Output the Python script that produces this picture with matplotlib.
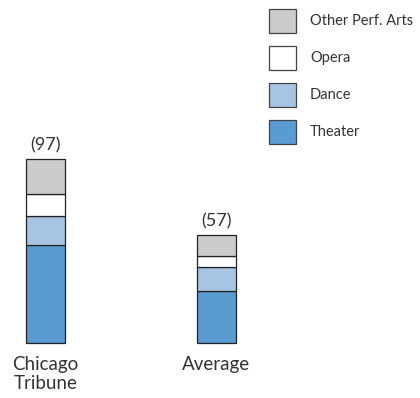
import matplotlib
import matplotlib.pyplot as plt
from matplotlib.patches import Rectangle

plt.rcParams['font.family'] = ['Lato', 'DejaVu Sans']

categories = ['Chicago\nTribune', 'Average']
totals = [97, 57]
series = ['Theater', 'Dance', 'Opera', 'Other Perf. Arts']
theater = [51.5, 27.5]
dance = [15.5, 12.5]
opera = [11.5, 6]
other = [18.5, 11]
colors = ['#5a9bd2', '#a8c4e3', '#ffffff', '#cbcbcb']

fig = plt.figure(figsize=(4.2, 3.98), dpi=100)
ax = fig.add_axes([0, 0, 1, 1])

x = range(len(categories))
bottom = [0, 0]
for vals, col in zip([theater, dance, opera, other], colors):
    ax.bar(x, vals, 0.228, bottom=bottom, color=col, edgecolor='#222222', linewidth=0.9)
    bottom = [b + v for b, v in zip(bottom, vals)]

for i, t in enumerate(totals):
    ax.annotate('(%d)' % t, (i, t), xytext=(0, 4), textcoords='offset points',
                ha='center', va='bottom', fontsize=13, color='#333333')
    ax.text(i, -6.5, categories[i], ha='center', va='top', fontsize=13.5,
            color='#333333', linespacing=1.2)

ax.set_xlim(-0.266, 2.19)
ax.set_ylim(-28.8, 180.7)
ax.axis('off')

# legend, drawn by hand (top to bottom)
for j, (name, col) in enumerate(zip(series[::-1], colors[::-1])):
    ytop = 9 + j * 37
    fig.patches.append(Rectangle((269 / 420, 1 - (ytop + 24) / 398), 27 / 420, 24 / 398,
                                 transform=fig.transFigure, facecolor=col,
                                 edgecolor='#444444', linewidth=0.9))
    fig.text(310 / 420, 1 - (ytop + 12) / 398, name, ha='left', va='center',
             fontsize=10.5, color='#333333')

plt.savefig('out.png')
